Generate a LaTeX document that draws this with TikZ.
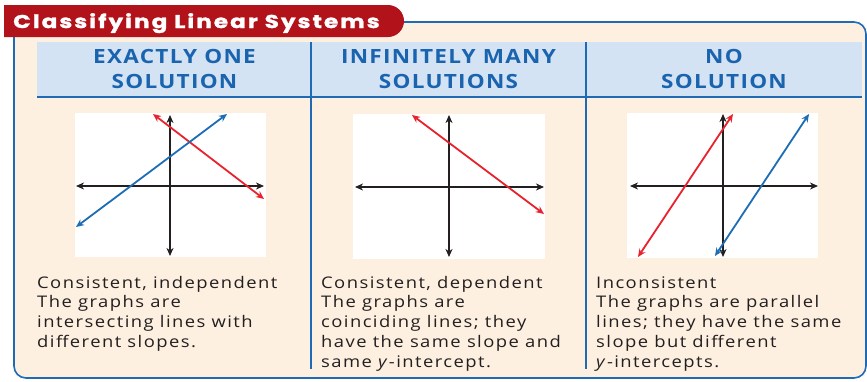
\documentclass[tikz,border=0pt]{standalone}
\usepackage{fontspec}
\setmainfont{Open Sans}
\newfontfamily\titlefont{Poppins}[FakeStretch=1.25, LetterSpace=11, BoldFeatures={FakeBold=1.5}]
\newfontfamily\headfont{Open Sans}[FakeStretch=1.15, LetterSpace=6.5]
\newfontfamily\bodyfont{Open Sans}[FakeStretch=1.15, LetterSpace=9]
\usetikzlibrary{arrows.meta}
\definecolor{bblue}{HTML}{1E6AB4}
\definecolor{hblue}{HTML}{D4E3F4}
\definecolor{cream}{HTML}{FDF0E1}
\definecolor{tred}{HTML}{B2121A}
\definecolor{lred}{HTML}{E8232E}
\definecolor{lblue}{HTML}{1C6DB5}
\definecolor{axk}{HTML}{231F20}
\definecolor{htext}{HTML}{1A63AE}
\definecolor{btext}{HTML}{231F20}
\tikzset{
  tip/.tip={Stealth[length=8pt,width=7pt,inset=2.5pt]},
  axisline/.style={draw=axk, line width=1.8pt, tip-tip},
  redline/.style={draw=lred, line width=1.8pt, tip-tip},
  blueline/.style={draw=lblue, line width=1.8pt, tip-tip},
  graphbox/.style={fill=white, draw=none},
  headtext/.style={text=htext, font=\headfont\fontsize{19.6}{24.5}\selectfont\bfseries, align=center, anchor=base, inner sep=0},
  bodytext/.style={text=btext, font=\bodyfont\fontsize{16}{19.9}\selectfont, align=left, anchor=base west, inner sep=0},
  divider/.style={draw=bblue, line width=2pt}
}
\begin{document}
\begin{tikzpicture}[x=1pt,y=-1pt]
\useasboundingbox (0,0) rectangle (867,381);
% outer box
\draw[fill=cream, draw=bblue, line width=1.6pt, rounded corners=12pt] (14,22) rectangle (866,378);
% header band
\fill[hblue] (37,42) rectangle (862,97);
\draw[divider] (37,97) -- (862,97);
\draw[divider] (311,42) -- (311,369);
\draw[divider] (586,42) -- (586,369);
% title tab
\fill[tred] (4,5) -- (388,5) arc[start angle=90, end angle=-90, radius=16pt] -- (4,37) -- cycle;
\node[text=white, font=\titlefont\fontsize{18.5}{20}\selectfont\bfseries, anchor=base west, inner sep=0] (title) at (13,28) {Classifying Linear Systems};
% headers
\node[headtext] (h1) at (174.5,88) {EXACTLY ONE\\SOLUTION};
\node[headtext] (h2) at (448.5,88) {INFINITELY MANY\\SOLUTIONS};
\node[headtext] (h3) at (724,88) {NO\\SOLUTION};
% graph 1
\fill[graphbox] (75,113) rectangle (266,257);
\coordinate (g1l) at (76,186); \coordinate (g1r) at (264,186);
\coordinate (g1t) at (170,115); \coordinate (g1b) at (170,256);
\draw[axisline] (g1l) -- (g1r);
\draw[axisline] (g1b) -- (g1t);
\coordinate (b1a) at (76,227); \coordinate (b1b) at (227,114);
\coordinate (r1a) at (153,114); \coordinate (r1b) at (264,199);
\draw[redline] (r1a) -- (r1b);
\draw[blueline] (b1a) -- (b1b);
% graph 2
\fill[graphbox] (353,114) rectangle (545,259);
\coordinate (g2l) at (355,187); \coordinate (g2r) at (544,187);
\coordinate (g2t) at (449,115); \coordinate (g2b) at (449,257);
\draw[axisline] (g2l) -- (g2r);
\draw[axisline] (g2b) -- (g2t);
\coordinate (r2a) at (412,115); \coordinate (r2b) at (544,214);
\draw[redline] (r2a) -- (r2b);
% graph 3
\fill[graphbox] (627,113) rectangle (818,258);
\coordinate (g3l) at (630,186); \coordinate (g3r) at (818,186);
\coordinate (g3t) at (723,114); \coordinate (g3b) at (723,257);
\draw[axisline] (g3l) -- (g3r);
\draw[axisline] (g3b) -- (g3t);
\coordinate (r3a) at (638,257); \coordinate (r3b) at (733,114);
\coordinate (b3a) at (715,256); \coordinate (b3b) at (809,114);
\draw[redline] (r3a) -- (r3b);
\draw[blueline] (b3a) -- (b3b);
% body texts
\node[bodytext] (t1) at (37,347.7) {Consistent, independent\\The graphs are\\intersecting lines with\\different slopes.};
\node[bodytext] (t2) at (321,367.6) {Consistent, dependent\\The graphs are\\coinciding lines; they\\have the same slope and\\same \textit{y}-intercept.};
\node[bodytext] (t3) at (596,367.6) {Inconsistent\\The graphs are parallel\\lines; they have the same\\slope but different\\\textit{y}-intercepts.};
\end{tikzpicture}
\end{document}
